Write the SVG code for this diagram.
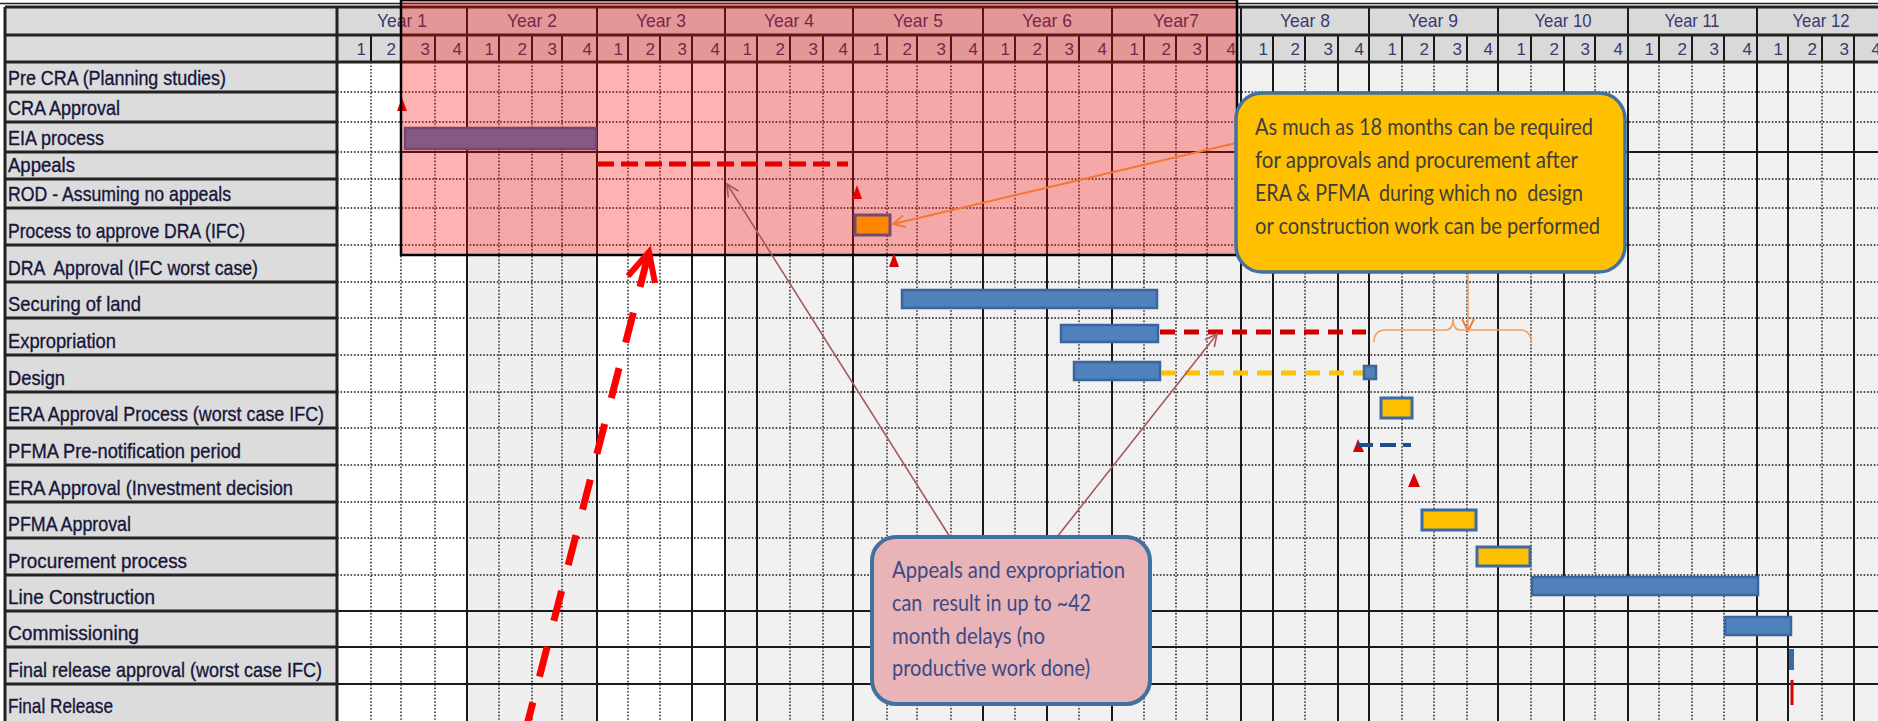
<svg xmlns="http://www.w3.org/2000/svg" width="1878" height="721" viewBox="0 0 1878 721">
<defs>
<style>
.lbl{font-family:"Liberation Sans",Arial,sans-serif;font-size:21px;fill:#16163a;stroke:#16163a;stroke-width:0.35}
.yr{font-family:"Liberation Sans",Arial,sans-serif;font-size:19px;fill:#3b3870;text-anchor:middle}
.qn{font-family:"Liberation Sans",Arial,sans-serif;font-size:17px;fill:#3b3870;text-anchor:end}
.dot{stroke:#1a1a1a;stroke-width:1.4;stroke-dasharray:1.6 1.8;fill:none}
.sol{stroke:#1a1a1a;stroke-width:2;fill:none}
.thk{stroke:#222;stroke-width:3;fill:none}
.bar{fill:#4f81bd;stroke:#3b669c;stroke-width:2.5}
.ybar{fill:#ffc000;stroke:#3d6aa4;stroke-width:3}
.ms{fill:#d80000}
.c1{font-family:Lato,"Liberation Sans",sans-serif;font-size:23px;fill:#3e3e3e}
.c2{font-family:Lato,"Liberation Sans",sans-serif;font-size:23px;fill:#3b4a86}
.cbox{stroke:#41729f}
</style>
<marker id="aOr" markerUnits="userSpaceOnUse" markerWidth="16" markerHeight="14" refX="13" refY="7" orient="auto"><path d="M1,1 L13,7 L1,13" fill="none" stroke="#f07830" stroke-width="1.8"/></marker>
<marker id="aBr" markerUnits="userSpaceOnUse" markerWidth="16" markerHeight="14" refX="13" refY="7" orient="auto"><path d="M1,1 L13,7 L1,13" fill="none" stroke="#a85858" stroke-width="1.6"/></marker>
</defs>

<rect width="1878" height="721" fill="#ffffff"/>

<g id="grid">
  <rect x="5" y="7" width="332" height="714" fill="#dcdcdc"/>
  <rect x="337" y="7" width="1549" height="55" fill="#d9d9d9"/>
  <rect x="337" y="62" width="130" height="659" fill="#ffffff"/>
  <rect x="467" y="62" width="130" height="659" fill="#efefef"/>
  <rect x="597" y="62" width="128" height="659" fill="#ffffff"/>
  <rect x="725" y="62" width="1161" height="659" fill="#f1f1f1"/>
  <path class="dot" d="M371,62V721M401,62V721M435,62V721M499,62V721M532,62V721M562,62V721M628,62V721M660,62V721M790,62V721M823,62V721M887,62V721M917,62V721M951,62V721M1015,62V721M1079,62V721M1144,62V721M1176,62V721M1207,62V721M1305,62V721M1402,62V721M1434,62V721M1467,62V721M1531,62V721M1595,62V721M1659,62V721M1692,62V721M1724,62V721M1822,62V721"/>
  <path class="sol" d="M467,7V721M597,7V721M692,62V721M725,7V721M757,62V721M853,7V721M983,7V721M1047,62V721M1112,7V721M1241,7V721M1273,62V721M1338,62V721M1369,7V721M1498,7V721M1564,62V721M1628,7V721M1757,7V721M1788,62V721M1854,62V721"/>
  <path class="sol" d="M371,35V62M401,35V62M435,35V62M499,35V62M532,35V62M562,35V62M628,35V62M660,35V62M692,35V62M757,35V62M790,35V62M823,35V62M887,35V62M917,35V62M951,35V62M1015,35V62M1047,35V62M1079,35V62M1144,35V62M1176,35V62M1207,35V62M1273,35V62M1305,35V62M1338,35V62M1402,35V62M1434,35V62M1467,35V62M1531,35V62M1564,35V62M1595,35V62M1659,35V62M1692,35V62M1724,35V62M1788,35V62M1822,35V62M1854,35V62"/>
  <path class="dot" d="M337,92H1886M337,122H1886M337,152H401M337,179H1886M337,208H1886M337,245H1886M337,282H1886M337,318H1886M337,355H1886M337,392H1886M337,428H1886M337,465H1886M337,502H1886M337,538H1886M337,575H1886"/>
  <path class="sol" d="M401,152H1886M337,611H1886M337,647H1886M337,684H1886"/>
  <path class="thk" d="M5,7H1886M5,35H1886M5,62H1886M5,92H337M5,122H337M5,152H337M5,179H337M5,208H337M5,245H337M5,282H337M5,318H337M5,355H337M5,392H337M5,428H337M5,465H337M5,502H337M5,538H337M5,575H337M5,611H337M5,647H337M5,684H337M5,7V721M337,7V721"/>
  <path d="M0,3.5H1878" stroke="#222" stroke-width="1.5"/>
</g>

<g id="header">
  <text class="yr" x="402" y="27" textLength="50" lengthAdjust="spacingAndGlyphs">Year 1</text>
  <text class="yr" x="532" y="27" textLength="50" lengthAdjust="spacingAndGlyphs">Year 2</text>
  <text class="yr" x="661" y="27" textLength="50" lengthAdjust="spacingAndGlyphs">Year 3</text>
  <text class="yr" x="789" y="27" textLength="50" lengthAdjust="spacingAndGlyphs">Year 4</text>
  <text class="yr" x="918" y="27" textLength="50" lengthAdjust="spacingAndGlyphs">Year 5</text>
  <text class="yr" x="1047" y="27" textLength="50" lengthAdjust="spacingAndGlyphs">Year 6</text>
  <text class="yr" x="1176" y="27" textLength="46" lengthAdjust="spacingAndGlyphs">Year7</text>
  <text class="yr" x="1305" y="27" textLength="50" lengthAdjust="spacingAndGlyphs">Year 8</text>
  <text class="yr" x="1433" y="27" textLength="50" lengthAdjust="spacingAndGlyphs">Year 9</text>
  <text class="yr" x="1563" y="27" textLength="57" lengthAdjust="spacingAndGlyphs">Year 10</text>
  <text class="yr" x="1692" y="27" textLength="55" lengthAdjust="spacingAndGlyphs">Year 11</text>
  <text class="yr" x="1821" y="27" textLength="57" lengthAdjust="spacingAndGlyphs">Year 12</text>
  <g class="qn">
    <text x="366" y="55">1</text><text x="396" y="55">2</text><text x="430" y="55">3</text><text x="462" y="55">4</text>
    <text x="494" y="55">1</text><text x="527" y="55">2</text><text x="557" y="55">3</text><text x="592" y="55">4</text>
    <text x="623" y="55">1</text><text x="655" y="55">2</text><text x="687" y="55">3</text><text x="720" y="55">4</text>
    <text x="752" y="55">1</text><text x="785" y="55">2</text><text x="818" y="55">3</text><text x="848" y="55">4</text>
    <text x="882" y="55">1</text><text x="912" y="55">2</text><text x="946" y="55">3</text><text x="978" y="55">4</text>
    <text x="1010" y="55">1</text><text x="1042" y="55">2</text><text x="1074" y="55">3</text><text x="1107" y="55">4</text>
    <text x="1139" y="55">1</text><text x="1171" y="55">2</text><text x="1202" y="55">3</text><text x="1236" y="55">4</text>
    <text x="1268" y="55">1</text><text x="1300" y="55">2</text><text x="1333" y="55">3</text><text x="1364" y="55">4</text>
    <text x="1397" y="55">1</text><text x="1429" y="55">2</text><text x="1462" y="55">3</text><text x="1493" y="55">4</text>
    <text x="1526" y="55">1</text><text x="1559" y="55">2</text><text x="1590" y="55">3</text><text x="1623" y="55">4</text>
    <text x="1654" y="55">1</text><text x="1687" y="55">2</text><text x="1719" y="55">3</text><text x="1752" y="55">4</text>
    <text x="1783" y="55">1</text><text x="1817" y="55">2</text><text x="1849" y="55">3</text><text x="1881" y="55">4</text>
  </g>
</g>

<g id="task-pre-cra"><text class="lbl" x="8" y="85" textLength="218" lengthAdjust="spacingAndGlyphs">Pre CRA (Planning studies)</text></g>
<g id="task-cra-approval"><text class="lbl" x="8" y="115" textLength="112" lengthAdjust="spacingAndGlyphs">CRA Approval</text>
  <polygon class="ms" points="397,111 402,98 407,111"/></g>
<g id="task-eia"><text class="lbl" x="8" y="145" textLength="96" lengthAdjust="spacingAndGlyphs">EIA process</text>
  <rect class="bar" x="405" y="128" width="191" height="21"/></g>
<g id="task-appeals"><text class="lbl" x="8" y="172" textLength="67" lengthAdjust="spacingAndGlyphs">Appeals</text>
  <path d="M597,164H848" stroke="#d40000" stroke-width="5" stroke-dasharray="17 7"/></g>
<g id="task-rod"><text class="lbl" x="8" y="201" textLength="223" lengthAdjust="spacingAndGlyphs">ROD - Assuming no appeals</text>
  <polygon class="ms" points="852,199 857,185 862,199"/></g>
<g id="task-process-dra"><text class="lbl" x="8" y="238" textLength="237" lengthAdjust="spacingAndGlyphs">Process to approve DRA (IFC)</text>
  <rect class="ybar" x="855" y="215" width="35" height="20"/></g>

<g id="focus-box">
  <rect x="401" y="0" width="836" height="255" fill="#ff0000" fill-opacity="0.3"/>
  <rect x="401" y="0" width="836" height="255" fill="none" stroke="#000" stroke-width="2.5"/>
</g>

<g id="task-dra-approval"><text class="lbl" x="8" y="275" textLength="250" lengthAdjust="spacingAndGlyphs" xml:space="preserve">DRA  Approval (IFC worst case)</text>
  <polygon class="ms" points="889,267 894,253 899,267"/></g>
<g id="task-securing"><text class="lbl" x="8" y="311" textLength="133" lengthAdjust="spacingAndGlyphs">Securing of land</text>
  <rect class="bar" x="902" y="290" width="255" height="18"/></g>
<g id="task-expropriation"><text class="lbl" x="8" y="348" textLength="108" lengthAdjust="spacingAndGlyphs">Expropriation</text>
  <rect class="bar" x="1061" y="325" width="97" height="17"/>
  <path d="M1160,332H1366" stroke="#c80000" stroke-width="5" stroke-dasharray="15 9"/></g>
<g id="task-design"><text class="lbl" x="8" y="385" textLength="57" lengthAdjust="spacingAndGlyphs">Design</text>
  <rect class="bar" x="1074" y="362" width="86" height="18"/>
  <path d="M1161,373H1364" stroke="#ffc000" stroke-width="5" stroke-dasharray="15 9"/>
  <rect class="bar" x="1364" y="366" width="12" height="13"/></g>
<g id="task-era-process"><text class="lbl" x="8" y="421" textLength="316" lengthAdjust="spacingAndGlyphs">ERA Approval Process (worst case IFC)</text>
  <rect class="ybar" x="1381" y="398" width="31" height="20"/></g>
<g id="task-pfma-pre"><text class="lbl" x="8" y="458" textLength="233" lengthAdjust="spacingAndGlyphs">PFMA Pre-notification period</text>
  <polygon class="ms" points="1353,452 1358,439 1364,452"/>
  <path d="M1357,445H1411" stroke="#1f4e8c" stroke-width="4" stroke-dasharray="16 7"/></g>
<g id="task-era-approval"><text class="lbl" x="8" y="495" textLength="285" lengthAdjust="spacingAndGlyphs">ERA Approval (Investment decision</text>
  <polygon class="ms" points="1408,487 1414,473 1420,487"/></g>
<g id="task-pfma-approval"><text class="lbl" x="8" y="531" textLength="123" lengthAdjust="spacingAndGlyphs">PFMA Approval</text>
  <rect class="ybar" x="1422" y="510" width="54" height="20"/></g>
<g id="task-procurement"><text class="lbl" x="8" y="568" textLength="179" lengthAdjust="spacingAndGlyphs">Procurement process</text>
  <rect class="ybar" x="1477" y="547" width="53" height="19"/></g>
<g id="task-construction"><text class="lbl" x="8" y="604" textLength="147" lengthAdjust="spacingAndGlyphs">Line Construction</text>
  <rect class="bar" x="1532" y="577" width="226" height="18"/></g>
<g id="task-commissioning"><text class="lbl" x="8" y="640" textLength="131" lengthAdjust="spacingAndGlyphs">Commissioning</text>
  <rect class="bar" x="1725" y="617" width="66" height="18"/></g>
<g id="task-final-approval"><text class="lbl" x="8" y="677" textLength="314" lengthAdjust="spacingAndGlyphs">Final release approval (worst case IFC)</text>
  <rect x="1789" y="649" width="5" height="21" fill="#3d6aa4"/></g>
<g id="task-final-release"><text class="lbl" x="8" y="713" textLength="105" lengthAdjust="spacingAndGlyphs">Final Release</text>
  <path d="M1792,680V705" stroke="#d80000" stroke-width="3"/></g>

<g id="connectors">
  <path d="M1236,143L893,224" stroke="#f07830" stroke-width="1.8" fill="none" marker-end="url(#aOr)"/>
  <path d="M1468,272V331" stroke="#f4a060" stroke-width="1.6" fill="none" marker-end="url(#aOr)"/>
  <path d="M1374,342Q1374,330 1386,330H1446Q1453,330 1453,318Q1453,330 1460,330H1520Q1531,330 1531,342" stroke="#f4a060" stroke-width="1.6" fill="none"/>
  <path d="M950,537L727,184" stroke="#a85858" stroke-width="1.6" fill="none" marker-end="url(#aBr)"/>
  <path d="M1057,537L1217,334" stroke="#a85858" stroke-width="1.6" fill="none" marker-end="url(#aBr)"/>
  <path d="M649,252L527,725" stroke="#ff0000" stroke-width="7" stroke-dasharray="31 26.5" stroke-dashoffset="-5" fill="none"/>
  <polyline points="628,276 649,252 655,283" stroke="#ff0000" stroke-width="6" fill="none"/>
</g>

<g id="callout-approvals">
  <rect class="cbox" x="1236" y="93" width="389" height="179" rx="26" fill="#ffc000" stroke-width="3.5"/>
  <text class="c1" x="1255" y="135" textLength="338" lengthAdjust="spacingAndGlyphs">As much as 18 months can be required</text>
  <text class="c1" x="1255" y="168" textLength="323" lengthAdjust="spacingAndGlyphs">for approvals and procurement after</text>
  <text class="c1" x="1255" y="201" textLength="328" lengthAdjust="spacingAndGlyphs" xml:space="preserve">ERA &amp; PFMA  during which no  design</text>
  <text class="c1" x="1255" y="234" textLength="345" lengthAdjust="spacingAndGlyphs">or construction work can be performed</text>
</g>

<g id="callout-appeals">
  <rect class="cbox" x="872" y="537" width="278" height="167" rx="24" fill="#e8b4b8" stroke-width="4"/>
  <text class="c2" x="892" y="578" textLength="233" lengthAdjust="spacingAndGlyphs">Appeals and expropriation</text>
  <text class="c2" x="892" y="611" textLength="199" lengthAdjust="spacingAndGlyphs" xml:space="preserve">can  result in up to ~42</text>
  <text class="c2" x="892" y="644" textLength="153" lengthAdjust="spacingAndGlyphs">month delays (no</text>
  <text class="c2" x="892" y="676" textLength="198" lengthAdjust="spacingAndGlyphs">productive work done)</text>
</g>
</svg>
